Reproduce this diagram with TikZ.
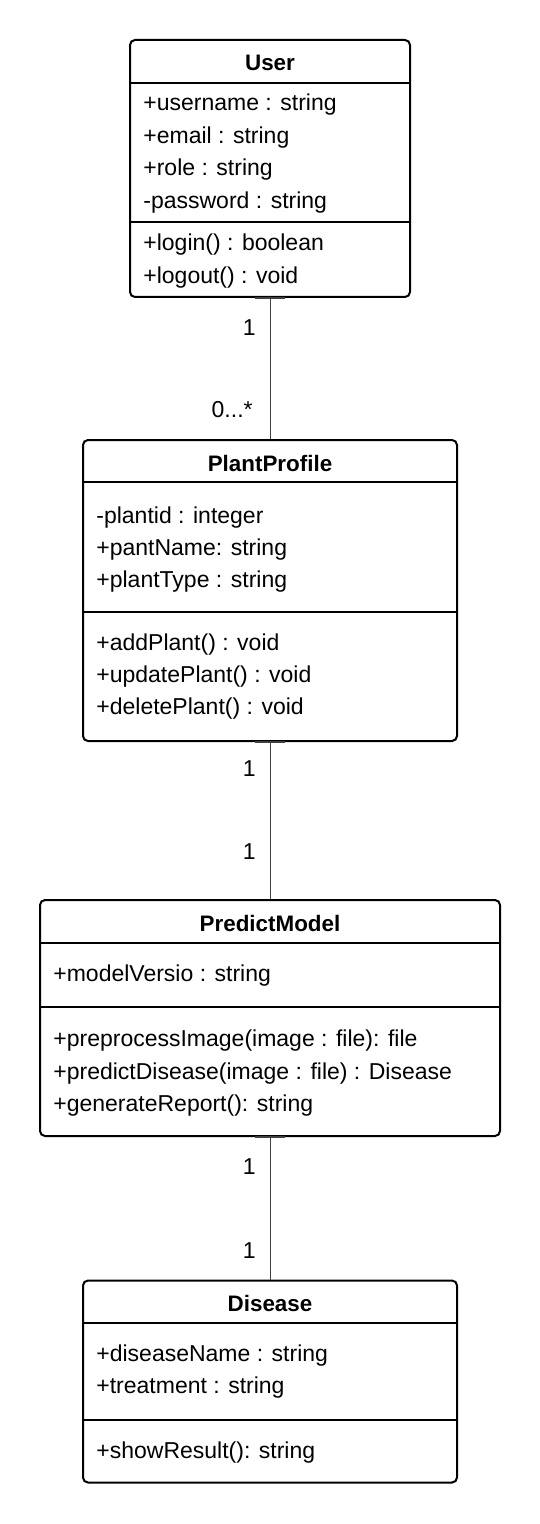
\documentclass[tikz,border=0pt]{standalone}
\usepackage{fontspec}
\setmainfont{Liberation Sans}
\begin{document}
\begin{tikzpicture}[x=0.5pt, y=-0.5pt, font=\fontsize{11.5}{14}\selectfont]
  % Define styles
  \tikzstyle{classbox} = [rectangle, draw, line width=1pt, rounded corners=2.5pt, inner sep=0pt]
  \tikzstyle{title} = [font=\fontsize{11.2}{14}\selectfont\bfseries]
  \tikzstyle{member} = [anchor=west, inner sep=0pt]
  \tikzstyle{sep} = [draw, line width=1pt]
  \tikzstyle{line} = [draw, line width=0.5pt, black!75]
  \tikzstyle{stub} = [draw, line width=1pt, black!75]
  \tikzstyle{mult} = [anchor=east, inner sep=0pt]

  \useasboundingbox (0,0) rectangle (540,1524);

  % User
  \node [classbox, minimum width=140pt, minimum height=128.5pt] (user) at (270,168.5) {};
  \node [title] (usertitle) at (270,63) {User};
  \draw [sep] (130,83) -- (410,83);
  \draw [sep] (130,222) -- (410,222);
  \foreach \txt [count=\i] in {+username : string, +email : string, +role : string, -password : string}
    \node [member] (ua\i) at (143,{105+32.4*(\i-1)}) {\txt};
  \foreach \txt [count=\i] in {+login() : boolean, +logout() : void}
    \node [member] (um\i) at (143,{245+33*(\i-1)}) {\txt};

  % PlantProfile
  \node [classbox, minimum width=187pt, minimum height=150.5pt] (plant) at (270,590.5) {};
  \node [title] (planttitle) at (270,463) {PlantProfile};
  \draw [sep] (83,482) -- (457,482);
  \draw [sep] (83,612) -- (457,612);
  \foreach \txt [count=\i] in {-plantid : integer, +pantName: string, +plantType : string}
    \node [member] (pa\i) at (96,{518+32*(\i-1)}) {\txt};
  \foreach \txt [count=\i] in {+addPlant() : void, +updatePlant() : void, +deletePlant() : void}
    \node [member] (pm\i) at (96,{645+32*(\i-1)}) {\txt};

  % PredictModel
  \node [classbox, minimum width=230pt, minimum height=118pt] (model) at (270,1018) {};
  \node [title] (modeltitle) at (270,923) {PredictModel};
  \draw [sep] (40,943) -- (500,943);
  \draw [sep] (40,1007) -- (500,1007);
  \node [member] (ma1) at (53,976) {+modelVersio : string};
  \foreach \txt [count=\i] in {+preprocessImage(image : file): file, +predictDisease(image : file) : Disease, +generateReport(): string}
    \node [member] (mm\i) at (53,{1041+32.3*(\i-1)}) {\txt};

  % Disease
  \node [classbox, minimum width=187pt, minimum height=101pt] (disease) at (270,1381.5) {};
  \node [title] (diseasetitle) at (270,1303) {Disease};
  \draw [sep] (83,1323) -- (457,1323);
  \draw [sep] (83,1420) -- (457,1420);
  \foreach \txt [count=\i] in {+diseaseName : string, +treatment : string}
    \node [member] (da\i) at (96,{1356+32*(\i-1)}) {\txt};
  \node [member] (dm1) at (96,1453) {+showResult(): string};

  % Draw lines
  \path [line] (user.south) -- (plant.north);
  \path [line] (plant.south) -- (model.north);
  \path [line] (model.south) -- (disease.north);
  \foreach \c in {user, plant, model}
    \path [stub] ([xshift=-7.5pt]\c.south) -- ([xshift=7.5pt]\c.south);

  % Multiplicities
  \node [mult] (m1) at (256,328) {1};
  \node [mult] (m2) at (253,410) {0...*};
  \node [mult] (m3) at (256,769) {1};
  \node [mult] (m4) at (256,852) {1};
  \node [mult] (m5) at (256,1167) {1};
  \node [mult] (m6) at (256,1251) {1};
\end{tikzpicture}
\end{document}
